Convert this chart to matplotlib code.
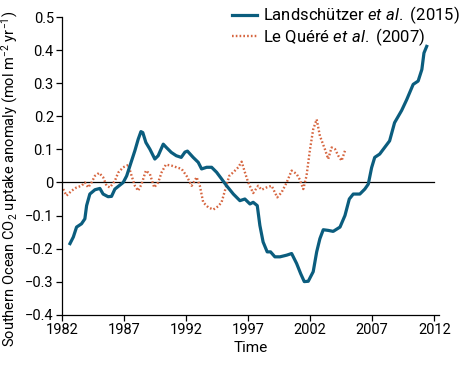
import matplotlib.pyplot as plt

plt.rcParams['font.family'] = ['Roboto', 'DejaVu Sans']
plt.rcParams['mathtext.fontset'] = 'custom'
plt.rcParams['mathtext.rm'] = 'Roboto'
plt.rcParams['mathtext.it'] = 'Roboto:italic'

# Landschützer et al. (2015)
land_years = [1982.63, 1982.9, 1983.16, 1983.56, 1983.83, 1983.97, 1984.23, 1984.64,
              1985.04, 1985.3, 1985.7, 1985.98, 1986.25, 1986.65, 1986.92, 1987.2,
              1987.46, 1987.86, 1988.13, 1988.35, 1988.5, 1988.75, 1989.07, 1989.47,
              1989.74, 1990.15, 1990.4, 1990.8, 1991.2, 1991.6, 1991.9, 1992.1,
              1992.56, 1992.97, 1993.24, 1993.65, 1994.05, 1994.45, 1994.85, 1995.26,
              1995.8, 1996.33, 1996.73, 1997.14, 1997.4, 1997.73, 1997.94, 1998.2,
              1998.53, 1998.8, 1999.15, 1999.56, 2000.1, 2000.5, 2000.9, 2001.23,
              2001.52, 2001.84, 2002.24, 2002.52, 2002.78, 2003.05, 2003.45, 2003.85,
              2004.4, 2004.8, 2005.15, 2005.47, 2006.0, 2006.4, 2006.68, 2006.95,
              2007.2, 2007.6, 2008.0, 2008.4, 2008.8, 2009.37, 2009.77, 2010.3,
              2010.7, 2011.0, 2011.17, 2011.39]
land_vals = [-0.185, -0.165, -0.135, -0.125, -0.11, -0.07, -0.035, -0.022,
             -0.018, -0.035, -0.043, -0.042, -0.02, -0.008, 0.0, 0.02,
             0.05, 0.096, 0.131, 0.154, 0.151, 0.121, 0.101, 0.071,
             0.081, 0.116, 0.106, 0.091, 0.081, 0.076, 0.092, 0.095,
             0.076, 0.061, 0.041, 0.046, 0.046, 0.031, 0.011, -0.01,
             -0.035, -0.055, -0.05, -0.065, -0.06, -0.07, -0.13, -0.18,
             -0.21, -0.21, -0.225, -0.225, -0.22, -0.215, -0.245, -0.276,
             -0.30, -0.299, -0.27, -0.21, -0.17, -0.143, -0.145, -0.148,
             -0.135, -0.10, -0.05, -0.035, -0.035, -0.02, -0.005, 0.045,
             0.076, 0.086, 0.106, 0.126, 0.181, 0.218, 0.25, 0.297,
             0.307, 0.342, 0.392, 0.412]

# Le Quéré et al. (2007)
lq_years = [1982.08, 1982.35, 1982.76, 1983.16, 1983.56, 1983.83, 1984.1, 1984.37,
            1984.64, 1984.98, 1985.3, 1985.58, 1985.85, 1986.25, 1986.52, 1986.92,
            1987.33, 1987.6, 1987.86, 1988.13, 1988.4, 1988.75, 1989.07, 1989.42,
            1989.74, 1990.02, 1990.36, 1990.82, 1991.22, 1991.63, 1992.03, 1992.44,
            1992.84, 1993.1, 1993.37, 1993.77, 1994.18, 1994.58, 1994.85, 1995.12,
            1995.47, 1995.8, 1996.2, 1996.47, 1996.73, 1997.0, 1997.4, 1997.8,
            1998.08, 1998.48, 1998.89, 1999.34, 1999.69, 2000.1, 2000.5, 2000.9,
            2001.17, 2001.44, 2001.7, 2001.98, 2002.24, 2002.52, 2002.78, 2003.18,
            2003.45, 2003.72, 2004.0, 2004.26, 2004.53, 2004.8]
lq_vals = [-0.02, -0.04, -0.025, -0.015, -0.01, 0.0, -0.015, 0.0,
           0.02, 0.029, 0.016, -0.01, -0.015, 0.005, 0.03, 0.046,
           0.053, 0.02, -0.01, -0.025, -0.005, 0.036, 0.026, -0.015,
           0.0, 0.031, 0.054, 0.051, 0.046, 0.041, 0.02, -0.01,
           0.016, -0.01, -0.06, -0.075, -0.082, -0.072, -0.06, -0.025,
           0.02, 0.031, 0.046, 0.063, 0.031, 0.0, -0.032, -0.01,
           -0.022, -0.015, -0.01, -0.045, -0.03, 0.0, 0.036, 0.026,
           0.008, -0.02, 0.02, 0.10, 0.161, 0.191, 0.141, 0.101,
           0.071, 0.106, 0.101, 0.081, 0.066, 0.096]

x_ticks = [1982, 1987, 1992, 1997, 2002, 2007, 2012]
y_ticks = [-0.4, -0.3, -0.2, -0.1, 0, 0.1, 0.2, 0.3, 0.4, 0.5]
y_labels = ['\u22120.4', '\u22120.3', '\u22120.2', '\u22120.1', '0',
            '0.1', '0.2', '0.3', '0.4', '0.5']

fig = plt.figure(figsize=(4.71, 3.68), dpi=100)
ax = fig.add_axes([0.132, 0.145, 0.80, 0.808])

# zero line, stops at 2012
ax.axhline(0, xmin=0, xmax=30 / 30.38, color='black', linewidth=0.9, zorder=1)
ax.plot(lq_years, lq_vals, color='#d6653f', linewidth=1.7,
        linestyle=(0, (0.7, 0.9)), label=r'Le Quéré $\it{et\ al.}$ (2007)', zorder=2)
ax.plot(land_years, land_vals, color='#0b5d7e', linewidth=2.3,
        label=r'Landschützer $\it{et\ al.}$ (2015)', zorder=3)

ax.set_xlim(1982, 2012.38)
ax.set_ylim(-0.4, 0.5)
ax.set_xticks(x_ticks)
ax.set_yticks(y_ticks)
ax.set_yticklabels(y_labels)
ax.tick_params(labelsize=10.5, length=4, width=0.9, pad=2)

for s in ['top', 'right']:
    ax.spines[s].set_visible(False)
for s in ['left', 'bottom']:
    ax.spines[s].set_linewidth(0.9)

ax.set_xlabel('Time', fontsize=11, labelpad=3)
ax.set_ylabel(r'Southern Ocean CO$_2$ uptake anomaly (mol m$^{-2}$ yr$^{-1}$)', fontsize=10.5)
ax.yaxis.set_label_coords(-0.112, 0.455)

handles, labels = ax.get_legend_handles_labels()
ax.legend(handles[::-1], labels[::-1], loc='upper right', bbox_to_anchor=(1.072, 1.065),
          frameon=False, fontsize=12, handlelength=1.5, handletextpad=0.35,
          labelspacing=0.0, borderaxespad=0)

fig.savefig('out.png', dpi=100)
